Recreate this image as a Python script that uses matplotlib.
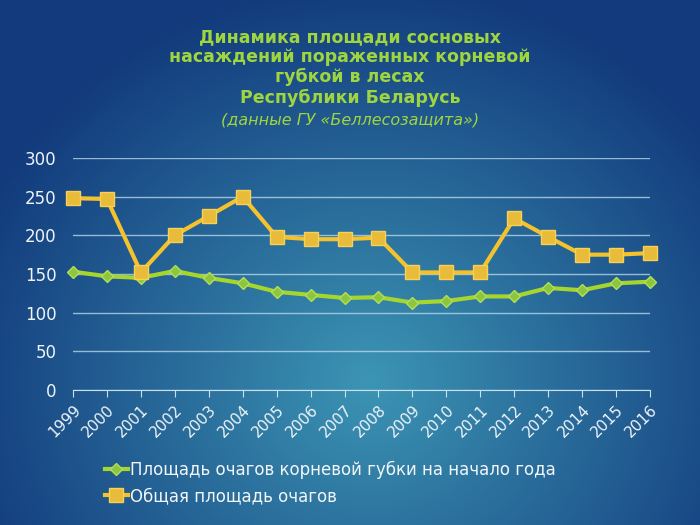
import numpy as np
import matplotlib
matplotlib.use("Agg")
import matplotlib.pyplot as plt

years = [str(y) for y in range(1999, 2017)]
total_area = [248, 247, 152, 200, 225, 250, 198, 195, 195, 197,
              152, 152, 152, 222, 198, 175, 175, 177]
root_rot_area = [153, 147, 145, 154, 145, 138, 127, 123, 119, 120,
                 113, 115, 121, 121, 132, 129, 138, 140]

title_lines = [
    "Динамика площади сосновых",
    "насаждений пораженных корневой",
    "губкой в лесах",
    "Республики Беларусь",
]
subtitle = "данные ГУ «Беллесозащита»"
label_root = "Площадь очагов корневой губки на начало года"
label_total = "Общая площадь очагов"

plt.rcParams["font.family"] = ["DejaVu Sans"]

fig = plt.figure(figsize=(7, 5.25), dpi=100)

# фон: радиальный градиент
bg = fig.add_axes([0, 0, 1, 1])
yy, xx = np.mgrid[0:525, 0:700]
r = np.sqrt(((xx - 370) / 430.0) ** 2 + ((yy - 380) / 400.0) ** 2)
r = np.clip(r, 0, 1)
c_in = np.array([0x3c, 0x95, 0xb4]) / 255.0
c_out = np.array([0x12, 0x3a, 0x7c]) / 255.0
img = c_in[None, None, :] * (1 - r[..., None]) + c_out[None, None, :] * r[..., None]
bg.imshow(img, aspect="auto", extent=[0, 700, 525, 0])
bg.set_xlim(0, 700)
bg.set_ylim(525, 0)
bg.axis("off")

green_title = "#9fd63f"
title_y = [37, 57, 77, 98]
for line, y in zip(title_lines, title_y):
    fig.text(0.5, 1 - y / 525, line, ha="center", va="center",
             fontsize=12.5, fontweight="bold", color=green_title)
fig.text(0.5, 1 - 120 / 525, "(" + subtitle + ")", ha="center", va="center",
         fontsize=11.5, style="italic", color=green_title)

ax = fig.add_axes([73 / 700, 1 - 390 / 525, (650 - 73) / 700, (390 - 158) / 525])
ax.patch.set_alpha(0)
x = np.arange(len(years))

ax.plot(x, root_rot_area, color="#a6d62e", lw=3, marker="D", ms=6.5,
        mfc="#8cc63f", mec="#b5dd55", mew=1, label=label_root, zorder=3)
ax.plot(x, total_area, color="#f3c22c", lw=3, marker="s", ms=9.5,
        mfc="#e9bb3a", mec="#f7d055", mew=1, label=label_total, zorder=4)

ax.set_xlim(0, len(years) - 1)
ax.set_ylim(0, 300)
ax.set_yticks(range(0, 301, 50))
ax.set_xticks(x)
ax.set_xticklabels(years, rotation=45, ha="right", rotation_mode="anchor")
ax.grid(axis="y", color="#b7d6ea", lw=1, alpha=0.8)
ax.set_axisbelow(True)
for s in ["top", "right", "left"]:
    ax.spines[s].set_visible(False)
ax.spines["bottom"].set_color("#c9e0ee")
ax.tick_params(axis="y", length=0, labelsize=12, labelcolor="#eef4f8", pad=12)
ax.tick_params(axis="x", length=5, color="#c9e0ee", labelsize=11,
               labelcolor="#eef4f8", pad=4)
for ln in ax.lines:
    ln.set_clip_on(False)

leg = fig.legend(loc="upper left", bbox_to_anchor=(0.14, 1 - 454 / 525),
                 frameon=False, fontsize=12, handlelength=1.4,
                 handletextpad=0.1, labelspacing=0.5, borderaxespad=0)
for t in leg.get_texts():
    t.set_color("#f2f6f9")

fig.savefig("out.png", dpi=100)
